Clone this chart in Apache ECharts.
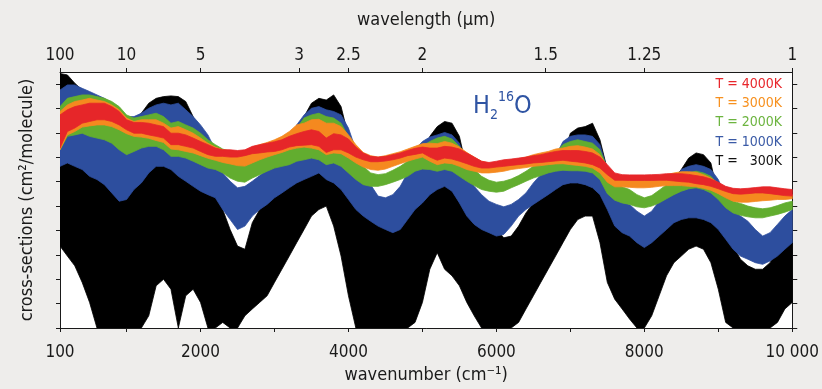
<!DOCTYPE html>
<html>
<head>
<meta charset="utf-8">
<script src="https://cdn.jsdelivr.net/npm/echarts@6/dist/echarts.min.js"></script>
<style>
  html, body { margin: 0; padding: 0; background: #eeedeb; }
  #chart { width: 822px; height: 389px; }
</style>
</head>
<body>
<div id="chart"></div>
<script>
// wavenumber grid (cm-1), one sample every 100 cm-1 from 100 to 10 000
const WN_START = 100
const WN_STEP = 100
const WN_COUNT = 100
const wavenumbers = Array.from({ length: WN_COUNT }, (_, i) => WN_START + i * WN_STEP)

// log cross-section, in decades above the bottom of the axis
// each temperature is drawn as a band between its upper and lower envelope
const t300Hi = [
  10.44, 10.38, 10.04, 9.76, 9.49, 9.22, 8.95, 8.67, 8.40, 8.26,
  8.54, 8.81, 9.22, 9.42, 9.49, 9.52, 9.49, 9.29, 8.67, 7.99,
  7.04, 6.09, 4.86, 4.04, 3.36, 3.23, 4.32, 4.86, 5.41, 5.95,
  6.36, 6.77, 7.86, 8.67, 9.22, 9.42, 9.35, 9.56, 9.08, 7.86,
  6.22, 4.86, 4.45, 4.32, 4.18, 4.32, 4.72, 5.27, 5.68, 6.09,
  7.86, 8.26, 8.47, 8.40, 7.86, 6.50, 5.68, 5.13, 4.59, 4.04,
  3.70, 3.77, 4.18, 4.72, 5.13, 5.41, 5.81, 6.22, 7.04, 7.99,
  8.20, 8.26, 8.40, 7.72, 6.50, 5.13, 4.59, 4.32, 3.77, 3.50,
  4.04, 4.59, 5.13, 6.09, 6.50, 6.97, 7.18, 7.11, 6.77, 5.41,
  4.18, 3.36, 2.82, 2.55, 2.41, 2.41, 2.68, 3.23, 3.64, 3.91,
]
const t300Lo = [
  3.36, 2.95, 2.55, 1.87, 1.05, 0, 0, 0, 0, 0,
  0, 0, 0.50, 1.73, 2.00, 1.59, 0, 1.32, 1.59, 1.05,
  0, 0, 0.23, 0, 0, 0.50, 0.78, 1.05, 1.32, 1.87,
  2.41, 2.95, 3.50, 4.04, 4.59, 4.86, 5.00, 4.18, 2.95, 1.32,
  0, 0, 0, 0, 0, 0, 0, 0, 0.23, 1.05,
  2.41, 3.09, 2.41, 2.14, 1.73, 1.05, 0.50, 0, 0, 0,
  0, 0, 0.23, 0.78, 1.32, 1.87, 2.41, 2.95, 3.50, 4.04,
  4.45, 4.59, 4.59, 3.50, 1.87, 1.18, 0.78, 0.37, 0, 0,
  0.50, 1.32, 2.14, 2.68, 2.95, 3.23, 3.36, 3.23, 2.68, 1.59,
  0.23, 0, 0, 0, 0, 0, 0, 0.23, 0.78, 1.05,
]
const t1000Hi = [
  9.76, 9.97, 9.97, 9.83, 9.70, 9.56, 9.42, 9.22, 9.01, 8.67,
  8.67, 8.81, 9.01, 9.15, 9.22, 9.15, 9.22, 8.95, 8.67, 8.33,
  7.92, 7.31, 6.36, 6.02, 5.75, 5.81, 6.02, 6.25, 6.50, 6.63,
  6.90, 7.31, 8.33, 8.74, 9.01, 9.08, 8.95, 8.88, 8.74, 8.20,
  7.31, 6.50, 5.88, 5.41, 5.34, 5.47, 5.81, 6.36, 7.31, 7.65,
  7.83, 7.92, 8.02, 7.92, 7.58, 6.63, 5.81, 5.47, 5.20, 5.07,
  4.97, 5.07, 5.27, 5.54, 5.95, 6.29, 6.63, 7.04, 7.65, 7.86,
  7.92, 7.92, 7.86, 7.52, 6.50, 5.41, 5.16, 5.07, 4.79, 4.59,
  4.79, 5.20, 5.68, 6.09, 6.50, 6.63, 6.70, 6.63, 6.50, 6.09,
  5.41, 4.86, 4.59, 4.38, 4.04, 3.77, 3.91, 4.25, 4.59, 4.86,
]
const t1000Lo = [
  6.63, 6.77, 6.63, 6.50, 6.22, 6.09, 5.88, 5.54, 5.20, 5.27,
  5.68, 5.95, 6.36, 6.63, 6.63, 6.50, 6.22, 6.02, 5.81, 5.61,
  5.47, 5.34, 4.86, 4.45, 4.04, 4.18, 4.59, 4.86, 5.07, 5.34,
  5.54, 5.75, 5.95, 6.09, 6.22, 6.36, 6.09, 5.95, 5.68, 5.27,
  4.86, 4.59, 4.38, 4.18, 4.04, 3.91, 4.04, 4.45, 4.86, 5.13,
  5.47, 5.68, 5.81, 5.61, 5.13, 4.59, 4.25, 4.04, 3.91, 3.77,
  3.84, 4.18, 4.59, 4.86, 5.07, 5.27, 5.47, 5.68, 5.88, 5.95,
  5.95, 5.88, 5.75, 5.47, 4.86, 4.18, 3.91, 3.77, 3.50, 3.30,
  3.50, 3.77, 4.04, 4.32, 4.45, 4.52, 4.52, 4.45, 4.32, 4.04,
  3.64, 3.23, 2.95, 2.82, 2.68, 2.61, 2.75, 2.95, 3.23, 3.50,
]
const t2000Hi = [
  9.08, 9.42, 9.49, 9.56, 9.56, 9.49, 9.42, 9.29, 9.08, 8.74,
  8.61, 8.67, 8.74, 8.81, 8.67, 8.40, 8.47, 8.33, 8.20, 7.99,
  7.72, 7.52, 7.34, 7.24, 7.18, 6.90, 6.84, 7.01, 7.18, 7.31,
  7.52, 7.79, 8.20, 8.61, 8.74, 8.81, 8.67, 8.61, 8.40, 7.86,
  7.18, 6.63, 6.36, 6.29, 6.33, 6.47, 6.63, 6.84, 7.18, 7.45,
  7.65, 7.79, 7.86, 7.75, 7.45, 6.90, 6.50, 6.22, 6.06, 5.98,
  6.02, 6.11, 6.25, 6.43, 6.63, 6.84, 7.01, 7.20, 7.52, 7.65,
  7.72, 7.65, 7.58, 7.31, 6.56, 5.95, 5.79, 5.68, 5.47, 5.34,
  5.43, 5.65, 5.88, 6.09, 6.25, 6.36, 6.43, 6.36, 6.22, 5.88,
  5.47, 5.20, 5.11, 5.00, 4.93, 4.89, 4.93, 5.02, 5.13, 5.20,
]
const t2000Lo = [
  7.31, 7.86, 7.92, 7.99, 7.86, 7.79, 7.72, 7.58, 7.31, 7.11,
  7.24, 7.38, 7.45, 7.45, 7.31, 7.04, 7.04, 6.97, 6.84, 6.70,
  6.56, 6.50, 6.36, 6.15, 6.02, 5.98, 6.15, 6.29, 6.43, 6.56,
  6.63, 6.70, 6.84, 6.90, 6.97, 6.90, 6.70, 6.77, 6.63, 6.36,
  6.09, 5.88, 5.81, 5.81, 5.88, 5.98, 6.09, 6.22, 6.43, 6.52,
  6.50, 6.43, 6.50, 6.43, 6.22, 6.02, 5.84, 5.68, 5.61, 5.57,
  5.61, 5.75, 5.88, 6.02, 6.15, 6.25, 6.36, 6.43, 6.47, 6.45,
  6.45, 6.43, 6.36, 6.09, 5.51, 5.24, 5.13, 5.07, 4.97, 4.93,
  5.00, 5.13, 5.30, 5.47, 5.61, 5.71, 5.75, 5.68, 5.54, 5.27,
  4.93, 4.72, 4.62, 4.56, 4.52, 4.52, 4.59, 4.66, 4.75, 4.86,
]
const t3000Hi = [
  8.88, 9.15, 9.29, 9.35, 9.42, 9.35, 9.29, 9.15, 8.95, 8.61,
  8.47, 8.54, 8.54, 8.54, 8.40, 8.20, 8.26, 8.13, 7.99, 7.79,
  7.58, 7.42, 7.31, 7.28, 7.24, 7.26, 7.42, 7.52, 7.61, 7.72,
  7.86, 8.06, 8.33, 8.40, 8.54, 8.56, 8.40, 8.40, 8.26, 7.92,
  7.52, 7.20, 7.07, 7.01, 7.07, 7.15, 7.23, 7.34, 7.45, 7.56,
  7.58, 7.56, 7.65, 7.58, 7.42, 7.20, 7.01, 6.84, 6.77, 6.77,
  6.82, 6.88, 6.93, 7.01, 7.11, 7.18, 7.24, 7.34, 7.38, 7.45,
  7.48, 7.42, 7.34, 7.11, 6.63, 6.25, 6.20, 6.20, 6.20, 6.20,
  6.22, 6.25, 6.29, 6.36, 6.41, 6.41, 6.39, 6.29, 6.15, 5.95,
  5.68, 5.57, 5.54, 5.54, 5.57, 5.60, 5.61, 5.57, 5.51, 5.47,
]
const t3000Lo = [
  7.31, 7.92, 8.06, 8.24, 8.29, 8.33, 8.33, 8.26, 8.13, 7.97,
  7.86, 7.83, 7.78, 7.69, 7.61, 7.34, 7.31, 7.24, 7.18, 7.07,
  6.96, 6.88, 6.79, 6.73, 6.66, 6.64, 6.77, 6.90, 7.01, 7.11,
  7.20, 7.31, 7.38, 7.42, 7.38, 7.31, 7.11, 7.18, 7.15, 6.97,
  6.77, 6.60, 6.50, 6.47, 6.52, 6.63, 6.74, 6.84, 6.93, 7.01,
  6.84, 6.70, 6.77, 6.74, 6.63, 6.50, 6.43, 6.36, 6.36, 6.39,
  6.43, 6.50, 6.54, 6.58, 6.63, 6.66, 6.70, 6.73, 6.74, 6.70,
  6.67, 6.63, 6.56, 6.36, 5.98, 5.79, 5.79, 5.77, 5.75, 5.75,
  5.77, 5.81, 5.84, 5.84, 5.84, 5.81, 5.79, 5.73, 5.65, 5.51,
  5.34, 5.20, 5.16, 5.16, 5.19, 5.22, 5.24, 5.27, 5.27, 5.30,
]
const t4000Hi = [
  8.74, 8.95, 9.08, 9.15, 9.22, 9.22, 9.22, 9.08, 8.88, 8.54,
  8.43, 8.43, 8.40, 8.33, 8.26, 7.99, 7.99, 7.92, 7.79, 7.65,
  7.52, 7.38, 7.31, 7.31, 7.28, 7.31, 7.45, 7.52, 7.58, 7.64,
  7.72, 7.86, 7.97, 8.06, 8.13, 8.06, 7.79, 7.97, 7.92, 7.75,
  7.42, 7.18, 7.04, 7.01, 7.04, 7.11, 7.18, 7.28, 7.37, 7.42,
  7.38, 7.38, 7.45, 7.42, 7.34, 7.18, 7.01, 6.84, 6.79, 6.84,
  6.90, 6.93, 6.97, 7.01, 7.07, 7.11, 7.18, 7.24, 7.28, 7.28,
  7.28, 7.24, 7.18, 7.01, 6.70, 6.36, 6.29, 6.28, 6.28, 6.28,
  6.29, 6.30, 6.33, 6.33, 6.33, 6.30, 6.25, 6.20, 6.11, 5.98,
  5.81, 5.73, 5.71, 5.73, 5.76, 5.79, 5.79, 5.75, 5.71, 5.68,
]
const t4000Lo = [
  7.38, 8.06, 8.20, 8.40, 8.47, 8.54, 8.54, 8.47, 8.33, 8.13,
  7.99, 7.99, 7.92, 7.86, 7.79, 7.52, 7.52, 7.45, 7.38, 7.24,
  7.11, 7.04, 7.04, 7.01, 7.01, 7.07, 7.15, 7.18, 7.22, 7.24,
  7.31, 7.42, 7.48, 7.50, 7.52, 7.45, 7.20, 7.31, 7.31, 7.18,
  7.01, 6.90, 6.82, 6.82, 6.85, 6.90, 6.97, 7.07, 7.12, 7.18,
  7.01, 6.88, 6.97, 6.93, 6.84, 6.74, 6.63, 6.56, 6.56, 6.60,
  6.63, 6.67, 6.70, 6.73, 6.77, 6.79, 6.82, 6.85, 6.88, 6.84,
  6.81, 6.77, 6.70, 6.56, 6.29, 6.06, 6.06, 6.05, 6.05, 6.05,
  6.05, 6.06, 6.06, 6.03, 6.00, 5.98, 5.92, 5.88, 5.81, 5.71,
  5.60, 5.51, 5.49, 5.51, 5.54, 5.54, 5.51, 5.47, 5.43, 5.41,
]

// axes
const bottomTicks = [100, 1000, 2000, 3000, 4000, 5000, 6000, 7000, 8000, 9000, 10000]
const bottomLabels = [100, 2000, 4000, 6000, 8000, 10000]
const topWavelengths = [100, 10, 5, 3, 2.5, 2, 1.5, 1.25, 1] // µm
const yTicks = [0, 1, 2, 3, 4, 5, 6, 7, 8, 9, 10]

// drawn back to front: coldest first, hottest on top
const temps = [
  { label: 'T =   300K', hi: t300Hi, lo: t300Lo, color: '#000000', text: '#111111' },
  { label: 'T = 1000K', hi: t1000Hi, lo: t1000Lo, color: '#2d4e9e', text: '#3a5aa6' },
  { label: 'T = 2000K', hi: t2000Hi, lo: t2000Lo, color: '#62ad2f', text: '#6cb43f' },
  { label: 'T = 3000K', hi: t3000Hi, lo: t3000Lo, color: '#f5891f', text: '#f7901e' },
  { label: 'T = 4000K', hi: t4000Hi, lo: t4000Lo, color: '#e62629', text: '#e8262b' },
]

const FONT = "'Liberation Sans Narrow', 'DejaVu Sans Condensed', 'Noto Sans', sans-serif"
const INK = '#1a1a1a'

const topTicks = topWavelengths.map(l => 10000 / l)
const fmtWavelength = (v) => String(Number((10000 / v).toPrecision(3)))

// one filled polygon per temperature: upper envelope left to right, lower envelope back
const bandRenderer = (color) => (params, api) => {
  if (params.dataIndexInside !== 0) return null
  const n = params.dataInsideLength
  const upper = []
  const lower = []
  for (let i = 0; i < n; i++) {
    upper.push(api.coord([api.value(0, i), api.value(2, i)]))
    lower.push(api.coord([api.value(0, i), api.value(1, i)]))
  }
  return {
    type: 'polygon',
    shape: { points: upper.concat(lower.reverse()) },
    style: { fill: color, stroke: color, lineWidth: 0.8 },
  }
}

const series = temps.map((t, k) => ({
  name: t.label,
  type: 'custom',
  silent: true,
  clip: true,
  z: 2 + k,
  encode: { x: 0, y: [1, 2] },
  data: wavenumbers.map((w, i) => [w, t.lo[i], t.hi[i]]),
  renderItem: bandRenderer(t.color),
}))

const legendY = [84, 103, 122, 142, 161]
const legendTexts = temps.slice().reverse().map((t, i) => ({
  type: 'text',
  x: 782,
  y: legendY[i],
  z: 100,
  style: {
    text: t.label,
    fill: t.text,
    font: '14px ' + FONT,
    align: 'right',
    verticalAlign: 'middle',
  },
}))

const chart = echarts.init(document.getElementById('chart'))
chart.setOption({
  animation: false,
  backgroundColor: '#eeedeb',
  grid: {
    left: 60, right: 29, top: 72, bottom: 60,
    show: true, backgroundColor: '#ffffff', borderWidth: 0,
  },
  xAxis: [
    {
      type: 'value',
      position: 'bottom',
      min: 100,
      max: 10000,
      axisLine: { show: true, onZero: false, lineStyle: { color: INK, width: 1 } },
      axisTick: { show: true, length: 4, customValues: bottomTicks, lineStyle: { color: INK } },
      axisLabel: {
        customValues: bottomLabels,
        formatter: v => (v === 10000 ? '10 000' : String(v)),
        fontSize: 17, color: INK, fontFamily: FONT, margin: 16,
      },
      splitLine: { show: false },
      name: 'wavenumber (cm⁻¹)',
      nameLocation: 'middle',
      nameGap: 38,
      nameTextStyle: { fontSize: 18, color: INK, fontFamily: FONT },
    },
    {
      type: 'value',
      position: 'top',
      min: 100,
      max: 10000,
      axisLine: { show: true, onZero: false, lineStyle: { color: INK, width: 1 } },
      axisTick: { show: true, length: 4, customValues: topTicks, lineStyle: { color: INK } },
      axisLabel: {
        customValues: topTicks,
        formatter: fmtWavelength,
        fontSize: 17, color: INK, fontFamily: FONT, margin: 8,
      },
      splitLine: { show: false },
      name: 'wavelength (µm)',
      nameLocation: 'middle',
      nameGap: 43,
      nameTextStyle: { fontSize: 18, color: INK, fontFamily: FONT },
    },
  ],
  yAxis: [
    {
      type: 'value',
      position: 'left',
      min: 0,
      max: 10.5,
      axisLine: { show: true, onZero: false, lineStyle: { color: INK, width: 1 } },
      axisTick: { show: true, length: 4, customValues: yTicks, lineStyle: { color: INK } },
      axisLabel: { show: false },
      splitLine: { show: false },
      name: 'cross-sections (cm²/molecule)',
      nameLocation: 'middle',
      nameGap: 24,
      nameTextStyle: { fontSize: 18, color: INK, fontFamily: FONT },
    },
    {
      type: 'value',
      position: 'right',
      min: 0,
      max: 10.5,
      axisLine: { show: true, onZero: false, lineStyle: { color: INK, width: 1 } },
      axisTick: { show: true, length: 5, customValues: yTicks, lineStyle: { color: INK } },
      axisLabel: { show: false },
      splitLine: { show: false },
    },
  ],
  series,
  graphic: [
    ...legendTexts,
    {
      type: 'text',
      x: 473,
      y: 106,
      z: 100,
      style: {
        text: '{h|H}{sub|2}{sup|16}{h|O}',
        verticalAlign: 'middle',
        rich: {
          h: { fontSize: 25, fill: '#2f54a3', fontFamily: FONT, lineHeight: 32 },
          sub: { fontSize: 14, fill: '#2f54a3', fontFamily: FONT, lineHeight: 14, verticalAlign: 'bottom' },
          sup: { fontSize: 14, fill: '#2f54a3', fontFamily: FONT, lineHeight: 14, verticalAlign: 'top' },
        },
      },
    },
  ],
})
</script>
</body>
</html>
